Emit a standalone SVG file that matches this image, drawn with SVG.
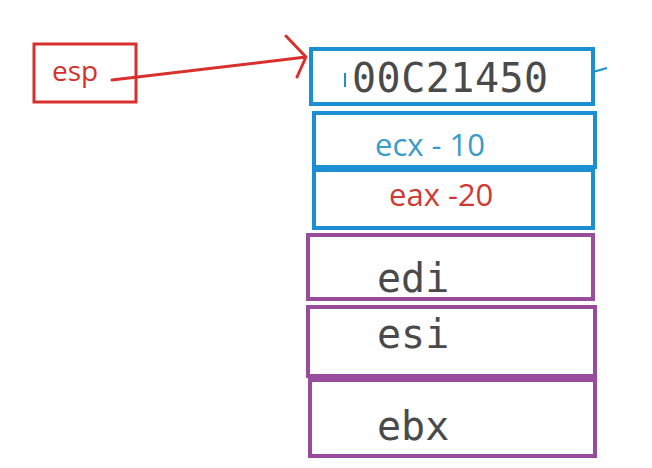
<svg xmlns="http://www.w3.org/2000/svg" width="652" height="468" viewBox="0 0 652 468">
<style>
.blue{fill:#fff;stroke:#1b8fd2;stroke-width:4}
.purple{fill:#fff;stroke:#9a4c9c;stroke-width:4}
.mono{font-family:"DejaVu Sans Mono",monospace;font-size:40px;fill:#4a4a4a}
.sans{font-family:"Open Sans","Liberation Sans",sans-serif}
</style>
<rect width="652" height="468" fill="#fff"/>
<g id="esp">
<rect x="34" y="44" width="102" height="58" fill="#fff" stroke="#d8302c" stroke-width="3"/>
<text x="52" y="81" class="sans" font-size="28" fill="#d8302c">esp</text>
</g>
<g id="connectors">
<path d="M112 80 L306 57 M286 36 L306 57 L297 77" fill="none" stroke="#d8302c" stroke-width="3" stroke-linecap="round" stroke-linejoin="round"/>
</g>
<g id="addr">
<rect x="311" y="49" width="282" height="55" class="blue"/>
<path d="M345 73 L345 87" stroke="#1b8fd2" stroke-width="2"/>
<path d="M593 72 L607 68" stroke="#1b8fd2" stroke-width="2" fill="none"/>
<text x="352" y="92" class="mono" letter-spacing="0.5">00C21450</text>
</g>
<g id="ecx">
<rect x="314" y="113" width="281" height="54" class="blue"/>
<text x="375" y="156" class="sans" font-size="31" fill="#3a9cc8">ecx - 10</text>
</g>
<g id="eax">
<rect x="314" y="170" width="279" height="58" class="blue"/>
<text x="389" y="206" class="sans" font-size="31" fill="#d03a32">eax -20</text>
</g>
<g id="edi">
<rect x="308" y="235" width="285" height="64" class="purple"/>
<text x="377" y="292" class="mono">edi</text>
</g>
<g id="esi">
<rect x="308" y="307" width="287" height="69" class="purple"/>
<text x="377" y="348" class="mono">esi</text>
</g>
<g id="ebx">
<rect x="310" y="380" width="285" height="76" class="purple"/>
<text x="377" y="440" class="mono">ebx</text>
</g>
</svg>
